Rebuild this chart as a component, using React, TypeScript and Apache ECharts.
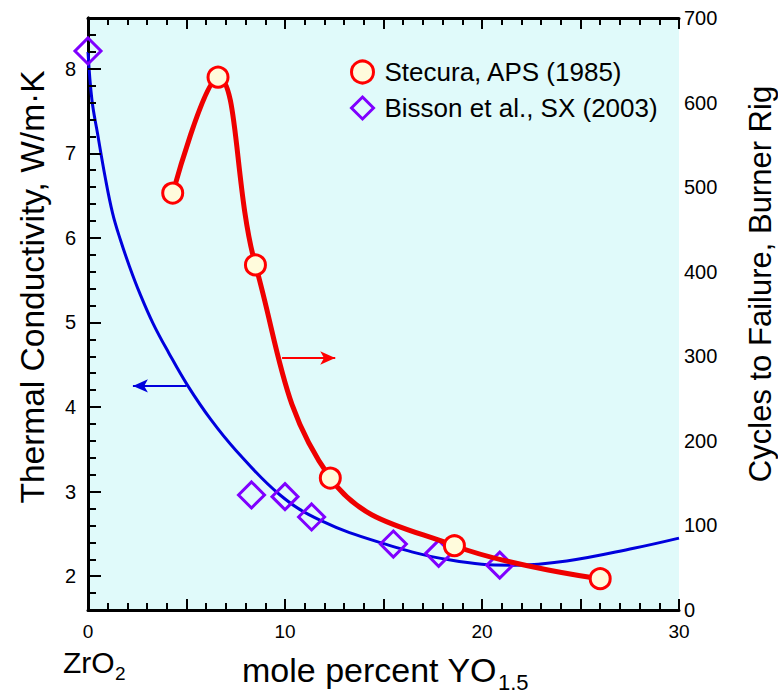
import React, { useEffect, useRef } from "react";
import * as echarts from "echarts";

// ---- data ----
// Stecura, APS (1985): mole % YO1.5 vs cycles to failure (right axis)
const stecuraX = [4.3, 6.6, 8.5, 12.3, 18.6, 26.0];
const stecuraCycles = [493, 630, 408, 156, 76, 37];

// Bisson et al., SX (2003): mole % YO1.5 vs thermal conductivity (left axis)
const bissonX = [0, 8.3, 10.0, 11.35, 15.5, 17.8, 20.9];
const bissonK = [8.21, 2.96, 2.94, 2.7, 2.38, 2.27, 2.13];

// Fitted conductivity curve (blue)
const curveX = [0, 0.2, 0.48, 0.87, 1.25, 1.64, 2.11, 2.62, 3.3, 4.1, 5.07, 6.24, 7.5, 9.75, 11.8, 14.8, 18.4, 21.6, 24.3, 27.7, 30];
const curveK = [8.2, 7.63, 7.24, 6.72, 6.29, 5.98, 5.66, 5.35, 4.99, 4.64, 4.25, 3.85, 3.49, 2.96, 2.66, 2.4, 2.19, 2.13, 2.18, 2.33, 2.45];

// Axis ranges / tick labels
const xRange = [0, 30];
const xLabels = [0, 10, 20, 30];
const xTickStep = 1;
const xMajorStep = 5;
const leftRange = [1.6, 8.6];
const leftLabels = [2, 3, 4, 5, 6, 7, 8];
const leftTickStep = 0.2;
const rightRange = [0, 700];

// Arrow annotations (data coordinates)
const redArrow = [[9.85, 298], [12.55, 298]];
const blueArrow = [[5.0, 4.25], [2.28, 4.25]];

const legendNames = ["Stecura, APS (1985)", "Bisson et al., SX (2003)"];

const FONT = '"Liberation Sans", Arial, Helvetica, sans-serif';

// plot-area box (pixels)
const GRID = { left: 88, top: 18, right: 99, bottom: 83 };
const W = 778;
const H = 693;

export default function App() {
  const ref = useRef<HTMLDivElement>(null);
  useEffect(() => {
    if (!ref.current) return;
    const chart = echarts.init(ref.current, undefined, { renderer: "svg" });

    const axisLine = { show: true, lineStyle: { color: "#000", width: 3 } };

    // tick marks as short segments in data space
    const yPerPx = (leftRange[1] - leftRange[0]) / (H - GRID.top - GRID.bottom);
    const xPerPx = (xRange[1] - xRange[0]) / (W - GRID.left - GRID.right);
    const tickSegs: any[] = [];
    const nx = Math.round((xRange[1] - xRange[0]) / xTickStep);
    for (let i = 0; i <= nx; i++) {
      const v = xRange[0] + i * xTickStep;
      const len = Math.abs(v / xMajorStep - Math.round(v / xMajorStep)) < 1e-6 ? 11 : 7;
      tickSegs.push([{ coord: [v, leftRange[0]] }, { coord: [v, leftRange[0] + len * yPerPx] }]);
      tickSegs.push([{ coord: [v, leftRange[1]] }, { coord: [v, leftRange[1] - len * yPerPx] }]);
    }
    const ny = Math.round((leftRange[1] - leftRange[0]) / leftTickStep);
    for (let i = 0; i <= ny; i++) {
      const v = Math.round((leftRange[0] + i * leftTickStep) * 1000) / 1000;
      const len = Math.abs(v - Math.round(v)) < 1e-6 ? 13 : 8;
      tickSegs.push([{ coord: [xRange[0], v] }, { coord: [xRange[0] + len * xPerPx, v] }]);
    }

    const option: any = {
      animation: false,
      backgroundColor: "#fff",
      textStyle: { fontFamily: FONT },
      grid: {
        left: GRID.left,
        right: GRID.right,
        top: GRID.top,
        bottom: GRID.bottom,
        show: true,
        backgroundColor: "#e0fafa",
        borderWidth: 0,
      },
      legend: {
        show: true,
        orient: "vertical",
        left: 345,
        top: 54,
        itemWidth: 34,
        itemHeight: 22,
        itemGap: 10,
        selectedMode: false,
        textStyle: { fontSize: 26, color: "#000", fontFamily: FONT, lineHeight: 26 },
        data: [
          {
            name: legendNames[0],
            icon: "circle",
            itemStyle: { color: "#fffbdc", borderColor: "#ff0000", borderWidth: 3 },
          },
          {
            name: legendNames[1],
            icon: "path://M0,-10 L10,0 L0,10 L-10,0 Z",
            itemStyle: { color: "rgba(0,0,0,0)", borderColor: "#7f00ff", borderWidth: 3 },
          },
        ],
      },
      xAxis: [
        {
          type: "value",
          position: "bottom",
          min: xRange[0],
          max: xRange[1],
          interval: 10,
          axisLine,
          axisTick: { show: false },
          splitLine: { show: false },
          axisLabel: {
            fontSize: 19,
            color: "#000",
            margin: 12,
            fontFamily: FONT,
            formatter: (v: number) => (xLabels.indexOf(v) >= 0 ? String(v) : ""),
          },
        },
        {
          type: "value",
          position: "top",
          min: xRange[0],
          max: xRange[1],
          axisLine,
          axisTick: { show: false },
          splitLine: { show: false },
          axisLabel: { show: false },
        },
      ],
      yAxis: [
        {
          type: "value",
          position: "left",
          min: leftRange[0],
          max: leftRange[1],
          interval: 0.2,
          axisLine,
          axisTick: { show: false },
          splitLine: { show: false },
          axisLabel: {
            fontSize: 20,
            color: "#000",
            margin: 12,
            fontFamily: FONT,
            formatter: (v: number) => {
              const r = Math.round(v);
              return Math.abs(v - r) < 1e-6 && leftLabels.indexOf(r) >= 0 ? String(r) : "";
            },
          },
        },
        {
          type: "value",
          position: "right",
          min: rightRange[0],
          max: rightRange[1],
          interval: 100,
          axisLine,
          axisTick: { show: false },
          splitLine: { show: false },
          axisLabel: { fontSize: 20, color: "#000", margin: 5, fontFamily: FONT },
        },
      ],
      series: [
        {
          name: "curve",
          type: "line",
          xAxisIndex: 0,
          yAxisIndex: 0,
          data: curveX.map((x, i) => [x, curveK[i]]),
          smooth: 0.4,
          showSymbol: false,
          symbol: "none",
          lineStyle: { color: "#0000dd", width: 3 },
          z: 2,
          silent: true,
          markLine: {
            silent: true,
            symbol: ["none", "arrow"],
            symbolSize: [10, 15],
            label: { show: false },
            lineStyle: { color: "#0000dd", width: 2, type: "solid" },
            data: [[{ coord: blueArrow[0] }, { coord: blueArrow[1] }]],
          },
        },
        {
          name: legendNames[1],
          type: "scatter",
          xAxisIndex: 0,
          yAxisIndex: 0,
          data: bissonX.map((x, i) => [x, bissonK[i]]),
          symbol: "diamond",
          symbolSize: 26,
          clip: false,
          itemStyle: { color: "rgba(0,0,0,0)", borderColor: "#7f00ff", borderWidth: 3, opacity: 1 },
          z: 6,
          markLine: {
            silent: true,
            symbol: ["none", "none"],
            label: { show: false },
            emphasis: { disabled: true },
            lineStyle: { color: "#000", width: 2, type: "solid", opacity: 1 },
            data: tickSegs,
          },
        },
        {
          name: legendNames[0],
          type: "line",
          xAxisIndex: 0,
          yAxisIndex: 1,
          data: stecuraX.map((x, i) => [x, stecuraCycles[i]]),
          smooth: 0.4,
          symbol: "circle",
          symbolSize: 20,
          showSymbol: true,
          clip: false,
          lineStyle: { color: "#ee0000", width: 5 },
          itemStyle: { color: "#fffbdc", borderColor: "#ff0000", borderWidth: 3 },
          z: 7,
          markLine: {
            silent: true,
            symbol: ["none", "arrow"],
            symbolSize: [10, 15],
            label: { show: false },
            lineStyle: { color: "#ff0000", width: 2, type: "solid" },
            data: [[{ coord: redArrow[0] }, { coord: redArrow[1] }]],
          },
        },
      ],
      graphic: [
        {
          type: "text",
          x: 32,
          y: 287,
          rotation: Math.PI / 2,
          style: {
            text: "Thermal Conductivity, W/m·K",
            fontSize: 33.5,
            fontFamily: FONT,
            fill: "#000",
            align: "center",
            verticalAlign: "middle",
          },
        },
        {
          type: "text",
          x: 760,
          y: 284,
          rotation: Math.PI / 2,
          style: {
            text: "Cycles to Failure, Burner Rig",
            fontSize: 31,
            fontFamily: FONT,
            fill: "#000",
            align: "center",
            verticalAlign: "middle",
          },
        },
        {
          type: "text",
          x: 242,
          y: 670,
          style: { text: "mole percent YO", fontSize: 34, fontFamily: FONT, fill: "#000", align: "left", verticalAlign: "middle" },
        },
        {
          type: "text",
          x: 498,
          y: 682,
          style: { text: "1.5", fontSize: 22, fontFamily: FONT, fill: "#000", align: "left", verticalAlign: "middle" },
        },
        {
          type: "text",
          x: 63,
          y: 662,
          style: { text: "ZrO", fontSize: 30, fontFamily: FONT, fill: "#000", align: "left", verticalAlign: "middle" },
        },
        {
          type: "text",
          x: 115,
          y: 673,
          style: { text: "2", fontSize: 19, fontFamily: FONT, fill: "#000", align: "left", verticalAlign: "middle" },
        },
      ],
    };

    chart.setOption(option);
    return () => chart.dispose();
  }, []);

  return (
    <div
      ref={ref}
      style={{ position: "fixed", left: 0, top: 0, width: W, height: H }}
    />
  );
}
